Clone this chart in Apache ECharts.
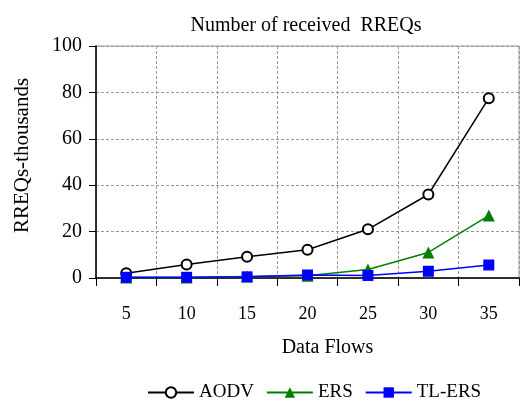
<!DOCTYPE html>
<html><head><meta charset="utf-8">
<script src="https://cdn.jsdelivr.net/npm/echarts@6/dist/echarts.min.js"></script>
<style>html,body{margin:0;padding:0;background:#fff}#c{width:521px;height:405px}</style>
</head><body><div id="c"></div>
<script>
const categories = ['5','10','15','20','25','30','35'];
const aodv = [2.0, 5.8, 9.2, 12.2, 21.0, 36.0, 77.5];
const ers = [0.2, 0.2, 0.7, 1.0, 3.7, 11.0, 26.9];
const tlers = [0.3, 0.3, 0.5, 1.3, 1.1, 2.9, 5.6];
const yTicks = [0, 20, 40, 60, 80, 100];

const font = 'Liberation Serif';
const chart = echarts.init(document.getElementById('c'));
chart.setOption({
  animation: false,
  title: {text: 'Number of received  RREQs', left: 301, top: 11, textAlign: 'center',
    textStyle: {fontFamily: font, fontWeight: 'normal', fontSize: 20, color: '#000'}},
  grid: {left: 96, right: 2, top: 46, bottom: 127, show: true, borderColor: '#999', borderWidth: 1},
  legend: {top: 383, left: 147, padding: 0, itemWidth: 46, itemHeight: 13, itemGap: 12,
    textStyle: {fontFamily: font, fontSize: 19, color: '#000'},
    data: ['AODV','ERS','TL-ERS']},
  xAxis: {type: 'category', data: categories, boundaryGap: true,
    name: 'Data Flows', nameLocation: 'middle', nameGap: 60,
    nameTextStyle: {fontFamily: font, fontSize: 20, color: '#000', padding: [0,0,0,40]},
    axisLine: {lineStyle: {color: '#000', width: 1.5}},
    axisTick: {show: true, length: 8, lineStyle: {color: '#000'}},
    axisLabel: {fontFamily: font, fontSize: 18, color: '#000', margin: 27},
    splitLine: {show: true, lineStyle: {color: '#999', type: [3,2]}}},
  yAxis: {type: 'value', min: 0, max: 100, interval: 20,
    name: 'RREQs-thousands', nameLocation: 'middle', nameGap: 63,
    nameTextStyle: {fontFamily: font, fontSize: 21, color: '#000', padding: [0,0,0,13]},
    axisLine: {show: true, lineStyle: {color: '#000', width: 1.5}},
    axisTick: {show: true, length: 7, lineStyle: {color: '#000'}},
    axisLabel: {fontFamily: font, fontSize: 20, color: '#000', margin: 14,
      formatter: v => yTicks.includes(v) ? String(v) : ''},
    splitLine: {show: true, lineStyle: {color: '#999', type: [3,2]}}},
  series: [
    {name: 'AODV', type: 'line', data: aodv, symbol: 'emptyCircle', symbolSize: 10,
      itemStyle: {color: '#000', borderColor: '#000', borderWidth: 1.5}, lineStyle: {color: '#000', width: 1.5}, z: 3},
    {name: 'ERS', type: 'line', data: ers, symbol: 'triangle', symbolSize: 12,
      itemStyle: {color: '#008000'}, lineStyle: {color: '#008000', width: 1.5}, z: 4},
    {name: 'TL-ERS', type: 'line', data: tlers, symbol: 'rect', symbolSize: 11,
      itemStyle: {color: '#0000ff'}, lineStyle: {color: '#0000ff', width: 1.5}, z: 5}
  ]
});
</script></body></html>
